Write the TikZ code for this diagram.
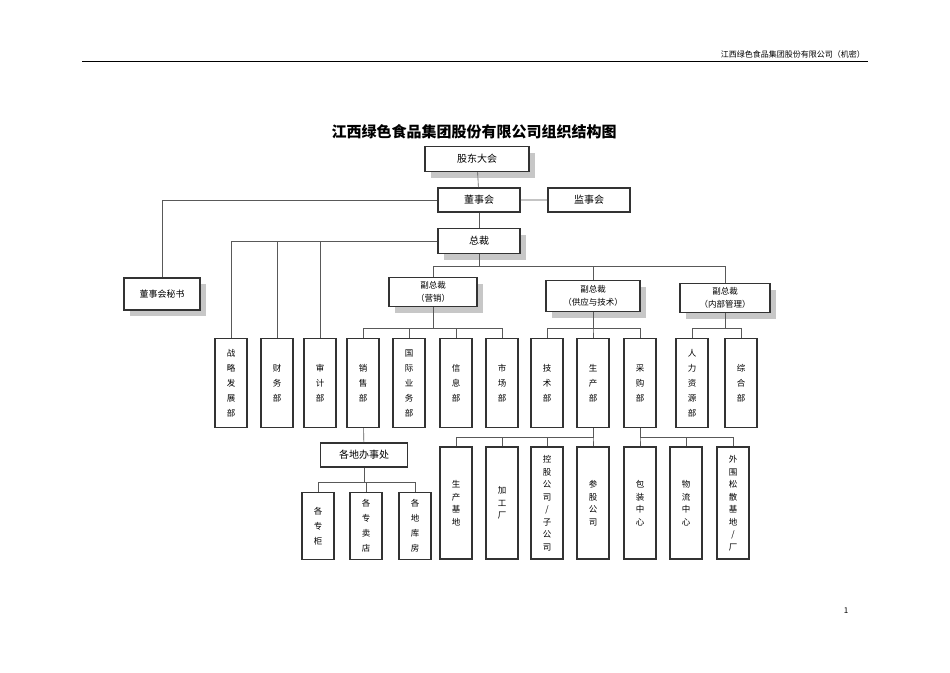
\documentclass[tikz,border=0pt]{standalone}
\usepackage{fontspec}
\setmainfont{Noto Sans CJK SC}
\usetikzlibrary{positioning,shadows}

\begin{document}
\begin{tikzpicture}[
                x=1pt, y=1pt,
                every node/.style={align=center, inner sep=1pt},
                box/.style={draw=black!80, line width=1.3pt, fill=white},
                shbox/.style={box, drop shadow={shadow xshift=6pt, shadow yshift=-6pt, fill=black!22, opacity=1}},
                dept/.style={box, minimum width=32pt, font=\fontsize{8.5}{15}\selectfont},
                link/.style={draw=black!65, line width=0.6pt}
            ]
            \useasboundingbox (0,0) rectangle (950,-672);

            % header
            \node[anchor=south east, font=\fontsize{8}{10}\selectfont] (hdr) at (866,-59) {江西绿色食品集团股份有限公司（机密）};
            \draw[line width=0.6pt] (82,-61) -- (868,-61);
            \node[font=\fontsize{8}{10}\selectfont] (pg) at (846,-611) {1};
            \node[font=\bfseries\fontsize{15}{18}\selectfont] (title) at (474,-132) {江西绿色食品集团股份有限公司组织结构图};

            % top levels
            \node[shbox, minimum width=104pt, minimum height=25pt] (gd) at (477,-159) {股东大会};
            \node[box, minimum width=82pt, minimum height=24pt] (dsh) at (479,-200) {董事会};
            \node[box, minimum width=82pt, minimum height=24pt] (jsh) at (589,-200) {监事会};
            \node[shbox, minimum width=82pt, minimum height=25pt] (zc) at (479,-241) {总裁};
            \node[shbox, minimum width=76pt, minimum height=32pt, font=\small] (ms) at (162,-294) {董事会秘书};

            \node[shbox, minimum width=88pt, minimum height=29pt, font=\fontsize{8.5}{13}\selectfont] (vpa) at (433,-292) {副总裁\\（营销）};
            \node[shbox, minimum width=94pt, minimum height=31pt, font=\fontsize{8.5}{13}\selectfont] (vpb) at (593,-296) {副总裁\\（供应与技术）};
            \node[shbox, minimum width=90pt, minimum height=29pt, font=\fontsize{8.5}{13}\selectfont] (vpc) at (725,-298) {副总裁\\（内部管理）};

            % first row of departments
            \foreach \x/\t [count=\i] in {231/{战\\略\\发\\展\\部}, 277/{财\\务\\部}, 320/{审\\计\\部}, 363/{销\\售\\部},
                    409/{国\\际\\业\\务\\部}, 456/{信\\息\\部}, 502/{市\\场\\部}, 547/{技\\术\\部},
                    593/{生\\产\\部}, 640/{采\\购\\部}, 692/{人\\力\\资\\源\\部}, 741/{综\\合\\部}}
                \node[dept, minimum height=89pt] (d\i) at (\x,-383) {\t};

            \node[box, minimum width=87pt, minimum height=24pt] (bsc) at (364,-455) {各地办事处};
            \foreach \x/\t [count=\i] in {318/{各\\专\\柜}, 366/{各\\专\\卖\\店}, 415/{各\\地\\库\\房}}
                \node[dept, minimum height=67pt] (s\i) at (\x,-526) {\t};

            % second row under production and purchasing
            \foreach \x/\t [count=\i] in {456/{生\\产\\基\\地}, 502/{加\\工\\厂}, 547/{控\\股\\公\\司\\/\\子\\公\\司},
                    593/{参\\股\\公\\司}, 640/{包\\装\\中\\心}, 686/{物\\流\\中\\心}, 733/{外\\围\\松\\散\\基\\地\\/\\厂}}
                \node[dept, minimum height=112pt, font=\fontsize{8.5}{12.5}\selectfont] (p\i) at (\x,-503) {\t};

            % connectors
            \coordinate (bz) at (479,-266);
            \coordinate (ba) at (433,-328);
            \coordinate (bb) at (593,-328);
            \coordinate (bc) at (725,-328);
            \coordinate (bs) at (364,-482);
            \coordinate (bp) at (593,-437);
            \coordinate (bq) at (640,-437);

            \path[link] (gd) -- (dsh) -- (jsh);
            \path[link] (dsh) -- (zc);
            \path[link] (dsh.west) -| (ms.north);
            \foreach \i in {1,2,3}
                \path[link] (zc.west) -| (d\i.north);
            \path[link] (zc.south) -- (bz) -| (vpa.north);
            \path[link] (bz) -| (vpb.north);
            \path[link] (bz) -| (vpc.north);
            \foreach \i in {4,5,6,7}
                \path[link] (vpa.south) |- (ba) -| (d\i.north);
            \foreach \i in {8,9,10}
                \path[link] (vpb.south) |- (bb) -| (d\i.north);
            \foreach \i in {11,12}
                \path[link] (vpc.south) |- (bc) -| (d\i.north);
            \path[link] (d4) -- (bsc);
            \foreach \i in {1,2,3}
                \path[link] (bsc.south) |- (bs) -| (s\i.north);
            \foreach \i in {1,2,3,4}
                \path[link] (d9.south) |- (bp) -| (p\i.north);
            \foreach \i in {5,6,7}
                \path[link] (d10.south) |- (bq) -| (p\i.north);
        \end{tikzpicture}
\end{document}
